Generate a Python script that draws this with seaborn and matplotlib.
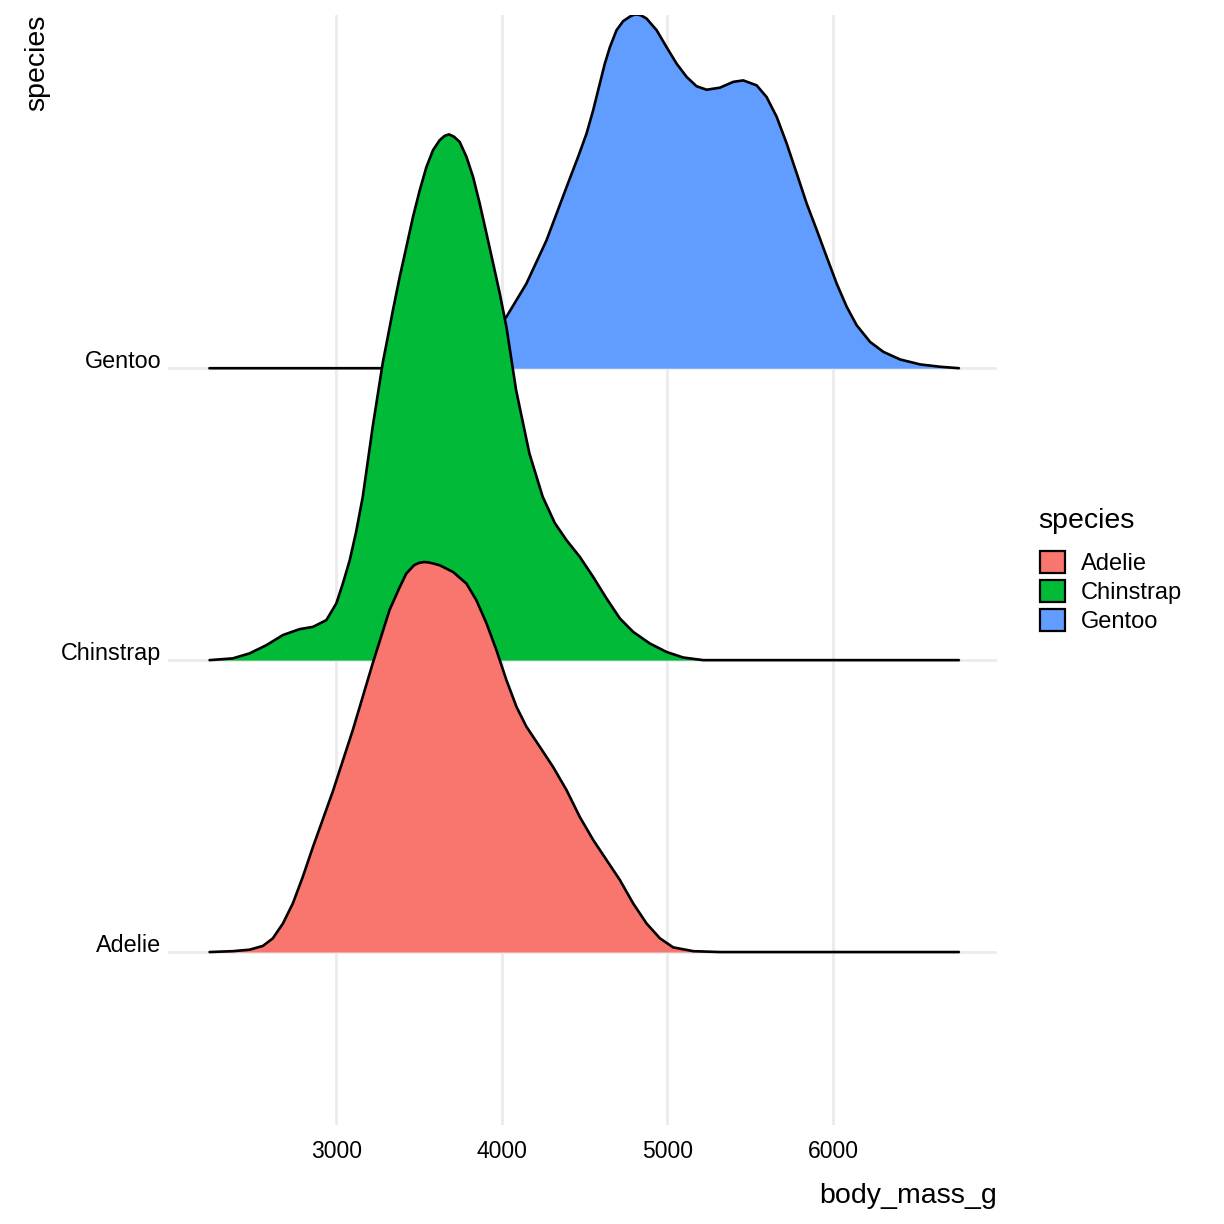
import numpy as np
import pandas as pd
import seaborn as sns
import matplotlib.pyplot as plt
from matplotlib.patches import Patch

# ridge curves (height in units of the row spacing)
species = ["Adelie", "Chinstrap", "Gentoo"]
colors = ["#F8766D", "#00BA38", "#619CFF"]

adelie_mass = [2236, 2376, 2477, 2558, 2618, 2679, 2739, 2799, 2860, 2980, 3101, 3221, 3322, 3380,
               3423, 3470, 3500, 3529, 3555, 3580, 3625, 3706, 3787, 3847, 3908, 3968, 4028, 4089,
               4149, 4230, 4310, 4391, 4471, 4552, 4633, 4713, 4793, 4874, 4955, 5035, 5156, 5317, 6760]
adelie_height = [0, 0.003, 0.008, 0.021, 0.047, 0.098, 0.167, 0.258, 0.360, 0.55, 0.761, 0.989, 1.171, 1.245,
                 1.296, 1.325, 1.333, 1.336, 1.335, 1.332, 1.325, 1.302, 1.262, 1.205, 1.126, 1.034, 0.932, 0.840,
                 0.772, 0.703, 0.634, 0.555, 0.463, 0.384, 0.315, 0.247, 0.167, 0.098, 0.047, 0.016, 0.003, 0, 0]

chinstrap_mass = [2236, 2376, 2477, 2578, 2679, 2779, 2860, 2941, 3001, 3041, 3082, 3121, 3161, 3221,
                  3282, 3313, 3343, 3384, 3424, 3464, 3505, 3545, 3585, 3625, 3655, 3682, 3712, 3746,
                  3787, 3827, 3867, 3908, 3948, 3988, 4028, 4087, 4167, 4247, 4320, 4391, 4471, 4552,
                  4633, 4713, 4793, 4894, 4995, 5095, 5216, 6760]
chinstrap_height = [0, 0.006, 0.023, 0.051, 0.086, 0.106, 0.114, 0.137, 0.194, 0.263, 0.342, 0.44, 0.56, 0.80,
                    1.02, 1.11, 1.199, 1.313, 1.415, 1.518, 1.610, 1.689, 1.747, 1.781, 1.796, 1.801, 1.793, 1.775,
                    1.724, 1.655, 1.564, 1.461, 1.359, 1.256, 1.142, 0.924, 0.708, 0.560, 0.47, 0.411, 0.354, 0.285,
                    0.211, 0.143, 0.097, 0.057, 0.028, 0.009, 0, 0]

gentoo_mass = [2235, 3300, 3450, 3600, 3750, 3900, 4028, 4149, 4270, 4361, 4411, 4461, 4512, 4552,
               4592, 4622, 4653, 4693, 4733, 4775, 4795, 4814, 4840, 4874, 4935, 4995, 5056, 5116,
               5176, 5237, 5317, 5398, 5458, 5539, 5599, 5660, 5720, 5781, 5841, 5902, 5962, 6022,
               6083, 6143, 6224, 6304, 6405, 6526, 6647, 6760]
gentoo_height = [0, 0, 0.005, 0.02, 0.05, 0.10, 0.176, 0.290, 0.438, 0.575, 0.650, 0.724, 0.804, 0.884,
                 0.975, 1.043, 1.100, 1.158, 1.189, 1.205, 1.210, 1.212, 1.209, 1.198, 1.158, 1.100, 1.043, 0.998,
                 0.966, 0.954, 0.961, 0.981, 0.986, 0.969, 0.929, 0.861, 0.770, 0.667, 0.564, 0.473, 0.381, 0.290,
                 0.210, 0.147, 0.090, 0.056, 0.030, 0.013, 0.005, 0]

x_ticks = [3000, 4000, 5000, 6000]

ridges = {
    "Adelie": (adelie_mass, adelie_height),
    "Chinstrap": (chinstrap_mass, chinstrap_height),
    "Gentoo": (gentoo_mass, gentoo_height),
}
frames = []
for i, sp in enumerate(species):
    m, h = ridges[sp]
    frames.append(pd.DataFrame({"species": sp, "body_mass_g": m, "height": h, "row": i + 1}))
df = pd.concat(frames, ignore_index=True)
df["y"] = df["row"] + df["height"]

sns.set_theme(style="white")
plt.rcParams["font.family"] = ["Liberation Sans", "DejaVu Sans"]
plt.rcParams["text.color"] = "black"

fig = plt.figure(figsize=(12.24, 12.24), dpi=100)
ax = fig.add_axes([168 / 1224, 1 - 1125 / 1224, 829 / 1224, 1110 / 1224])

grid_col = "#EBEBEB"
for t in x_ticks:
    ax.axvline(t, color=grid_col, lw=2.0, zorder=0)
for r in range(1, 4):
    ax.axhline(r, color=grid_col, lw=2.0, zorder=0)

# top ridge first, so lower ridges sit in front
for k, sp in enumerate(reversed(species)):
    d = df[df["species"] == sp]
    c = colors[species.index(sp)]
    z = 2 + 2 * k
    ax.fill_between(d["body_mass_g"], d["row"], d["y"], color=c, lw=0, zorder=z)
    sns.lineplot(data=d, x="body_mass_g", y="y", color="black", lw=1.9,
                 estimator=None, sort=False, ax=ax, zorder=z + 1)

ax.set_xlim(1985, 6990)
ax.set_ylim(0.4075, 4.21)
ax.set_xticks(x_ticks)
ax.set_xticklabels([str(t) for t in x_ticks])
ax.set_yticks([1, 2, 3])
ax.set_yticklabels(species)
for lab in ax.get_yticklabels():
    lab.set_verticalalignment("baseline")
ax.tick_params(axis="x", length=0, pad=11, labelsize=16.5, labelcolor="black")
ax.tick_params(axis="y", length=0, pad=5, labelsize=16.8, labelcolor="black")
for s in ax.spines.values():
    s.set_visible(False)
ax.grid(False)

ax.set_xlabel("body_mass_g", loc="right", fontsize=20.5, labelpad=14, color="black")
ax.set_ylabel("species", loc="top", fontsize=20.5, color="black")
ax.yaxis.set_label_coords(-0.142, 1.0)

# legend: title as its own text, keys below it
fig.text(1038 / 1224, 1 - 521 / 1224, "species", fontsize=20.5, ha="left", va="center")
handles = [Patch(facecolor=c, edgecolor="black", linewidth=1.6, label=s) for s, c in zip(species, colors)]
fig.legend(handles=handles, loc="center left", bbox_to_anchor=(1040 / 1224, 1 - 592 / 1224),
           frameon=False, fontsize=17, handlelength=1.06, handleheight=1.06, labelspacing=0.2,
           handletextpad=0.68, borderaxespad=0, borderpad=0)

fig.savefig("out.png", dpi=100)
